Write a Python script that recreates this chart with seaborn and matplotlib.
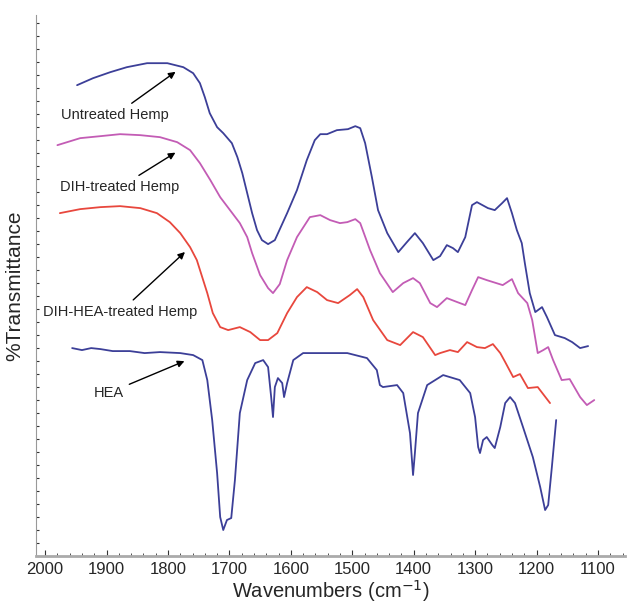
import pandas as pd
import matplotlib
matplotlib.use("Agg")
import matplotlib.pyplot as plt
import seaborn as sns

# spectra: wavenumber (cm-1) and offset transmittance (arbitrary units)
untreated_wn = [1948, 1922, 1894, 1867, 1834, 1801, 1775, 1759, 1748, 1740, 1732, 1720, 1710,
                1696, 1687, 1679, 1671, 1663, 1655, 1647, 1637, 1626, 1606, 1590, 1574, 1561,
                1552, 1541, 1525, 1507, 1495, 1487, 1479, 1468, 1458, 1443, 1425, 1411, 1398,
                1385, 1368, 1357, 1346, 1336, 1328, 1316, 1305, 1297, 1279, 1268, 1256, 1248,
                1240, 1232, 1224, 1219, 1211, 1202, 1191, 1183, 1170, 1154, 1142, 1129, 1116]
untreated_t = [471, 478, 484, 489, 493, 493, 489, 483, 473, 459, 443, 429, 423,
               413, 399, 383, 363, 343, 326, 316, 312, 316, 343, 366, 396, 416,
               422, 422, 426, 427, 430, 428, 413, 379, 346, 323, 304, 314, 323,
               313, 296, 300, 311, 308, 304, 319, 351, 354, 348, 346, 353, 358,
               343, 326, 313, 293, 263, 244, 249, 239, 221, 218, 214, 208, 210]

dih_wn = [1980, 1943, 1910, 1878, 1845, 1813, 1785, 1764, 1748, 1731, 1715, 1699, 1683,
          1671, 1663, 1650, 1637, 1629, 1618, 1606, 1590, 1569, 1552, 1536, 1520, 1508,
          1495, 1487, 1471, 1455, 1434, 1417, 1401, 1390, 1373, 1362, 1346, 1329, 1316,
          1305, 1295, 1281, 1255, 1240, 1230, 1215, 1207, 1198, 1189, 1181, 1173, 1159,
          1146, 1129, 1118, 1106]
dih_t = [411, 418, 420, 422, 421, 419, 414, 406, 393, 376, 359, 346, 333,
         319, 303, 281, 268, 263, 272, 296, 319, 339, 341, 336, 333, 334,
         337, 333, 306, 283, 264, 273, 278, 273, 253, 249, 258, 254, 251,
         266, 279, 276, 271, 277, 263, 253, 236, 203, 206, 209, 196, 176,
         177, 159, 151, 156]

dihhea_wn = [1976, 1943, 1910, 1878, 1845, 1818, 1797, 1780, 1764, 1753, 1736, 1727, 1715,
             1702, 1683, 1666, 1650, 1637, 1622, 1606, 1590, 1574, 1557, 1541, 1523, 1504,
             1492, 1482, 1466, 1443, 1422, 1401, 1385, 1365, 1357, 1341, 1328, 1313, 1297,
             1284, 1271, 1259, 1251, 1238, 1227, 1214, 1198, 1178]
dihhea_t = [343, 347, 349, 350, 348, 343, 334, 323, 309, 296, 263, 243, 229,
            226, 229, 224, 216, 216, 223, 243, 259, 269, 264, 256, 253, 261,
            267, 259, 236, 216, 211, 224, 219, 201, 203, 206, 204, 214, 209,
            208, 212, 203, 194, 179, 182, 168, 169, 153]

hea_wn = [1956, 1940, 1925, 1910, 1890, 1862, 1838, 1813, 1780, 1759, 1744, 1736, 1728,
          1720, 1715, 1710, 1704, 1697, 1691, 1683, 1671, 1658, 1645, 1637, 1632, 1629,
          1626, 1621, 1614, 1611, 1606, 1596, 1580, 1564, 1508, 1476, 1460, 1455, 1450,
          1427, 1417, 1406, 1401, 1398, 1393, 1378, 1352, 1325, 1308, 1300, 1295, 1292,
          1287, 1281, 1272, 1268, 1259, 1251, 1243, 1235, 1222, 1206, 1194, 1186, 1181,
          1175, 1168]
hea_t = [208, 206, 208, 207, 205, 205, 203, 204, 203, 201, 196, 176, 136,
         83, 39, 26, 36, 38, 76, 143, 176, 193, 196, 189, 159, 139,
         169, 178, 173, 159, 173, 196, 203, 203, 203, 198, 186, 171, 169,
         171, 163, 123, 81, 103, 143, 171, 181, 176, 163, 139, 109, 103,
         116, 119, 111, 108, 129, 153, 159, 153, 129, 99, 69, 46, 51,
         89, 136]

series_names = ["Untreated Hemp", "DIH-treated Hemp", "DIH-HEA-treated Hemp", "HEA"]
series_colors = ["#3c3f98", "#c35cb5", "#e8473d", "#3c3f98"]

frames = []
for name, wn, t in zip(series_names,
                       [untreated_wn, dih_wn, dihhea_wn, hea_wn],
                       [untreated_t, dih_t, dihhea_t, hea_t]):
    frames.append(pd.DataFrame({"wn": wn, "t": t, "series": name}))
df = pd.concat(frames, ignore_index=True)

sns.set_style("white")
plt.rcParams["font.family"] = ["Liberation Sans", "DejaVu Sans"]

fig = plt.figure(figsize=(6.3, 6.08), dpi=100)
ax = fig.add_axes([0.057, 0.0855, 0.935, 0.8895])

sns.lineplot(data=df, x="wn", y="t", hue="series", palette=dict(zip(series_names, series_colors)),
             sort=False, estimator=None, linewidth=1.3, legend=False, ax=ax,
             solid_joinstyle="round", solid_capstyle="round")

ax.set_xlim(2015, 1056)
ax.set_ylim(0, 541)

ax.set_xticks(range(2000, 1099, -100))
ax.set_xticks(range(2000, 1059, -20), minor=True)
ax.set_yticks(range(0, 541, 13))
ax.set_yticklabels([])
ax.tick_params(axis="x", which="major", direction="in", length=4, labelsize=12, color="#333333", pad=4)
ax.tick_params(axis="x", which="minor", direction="in", length=2.5, color="#333333")
ax.tick_params(axis="y", direction="in", length=2, color="#333333")
ax.tick_params(left=True, bottom=True, which="both")

for side in ["top", "right"]:
    ax.spines[side].set_visible(False)
ax.spines["bottom"].set_color("#aaaaaa")
ax.spines["bottom"].set_linewidth(2)
ax.spines["left"].set_color("#999999")
ax.spines["left"].set_linewidth(0.8)

ax.set_xlabel("Wavenumbers (cm$^{-1}$)", fontsize=14.5, labelpad=1)
ax.set_ylabel("%Transmittance", fontsize=15, labelpad=5)

arrow = dict(arrowstyle="-|>", color="black", lw=1, mutation_scale=10)
ax.annotate("Untreated Hemp", xy=(1784, 486), xytext=(1886, 441), fontsize=10.5,
            ha="center", va="center", arrowprops=arrow)
ax.annotate("DIH-treated Hemp", xy=(1784, 405), xytext=(1878, 369), fontsize=10.5,
            ha="center", va="center", arrowprops=arrow)
ax.annotate("DIH-HEA-treated Hemp", xy=(1769, 306), xytext=(1878, 244), fontsize=10.5,
            ha="center", va="center", arrowprops=arrow)
ax.annotate("HEA", xy=(1769, 196), xytext=(1897, 163), fontsize=10.5,
            ha="center", va="center", arrowprops=arrow)

fig.savefig("out.png", dpi=100)
